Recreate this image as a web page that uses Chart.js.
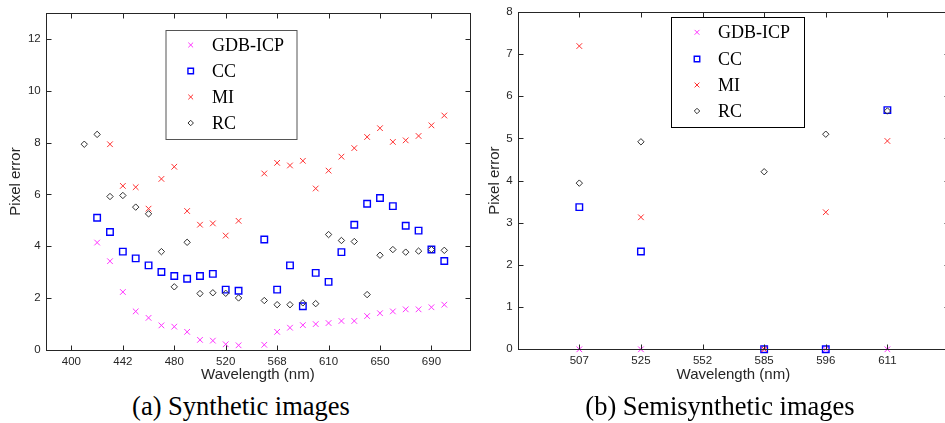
<!DOCTYPE html>
<html>
<head>
<meta charset="utf-8">
<script src="https://cdn.jsdelivr.net/npm/chart.js@4.4.0/dist/chart.umd.min.js"></script>
<style>
body { margin: 0; background: #fff; width: 945px; height: 423px; overflow: hidden; position: relative; }
canvas { position: absolute; top: 0; }
#chartA { left: 0; }
#chartB { left: 472px; }
.caption { position: absolute; top: 391px; font-family: "Liberation Serif", serif; font-size: 26.5px; color: #000; white-space: nowrap; transform: translateX(-50%); }
</style>
</head>
<body>
<canvas id="chartA" width="476" height="385"></canvas>
<canvas id="chartB" width="483" height="385"></canvas>
<div class="caption" style="left:241px">(a) Synthetic images</div>
<div class="caption" style="left:720px">(b) Semisynthetic images</div>
<script>
// (a) synthetic images : one value per wavelength index, null = no measure
const xTickPosA = [0, 4, 8, 12, 16, 20, 24, 28];
const xTickLabelsA = ['400', '442', '480', '520', '568', '610', '650', '690'];
const yTicksA = [0, 2, 4, 6, 8, 10, 12];

const gdbA = [null, null, 4.14, 3.42, 2.23, 1.48, 1.23, 0.94, 0.89, 0.69, 0.38, 0.35, 0.21, 0.17, null,
              0.19, 0.69, 0.85, 0.95, 0.99, 1.03, 1.11, 1.11, 1.30, 1.41, 1.48, 1.56, 1.56, 1.64, 1.74];
const ccA = [null, null, 5.10, 4.55, 3.79, 3.53, 3.26, 3.00, 2.85, 2.74, 2.85, 2.93, 2.32, 2.28, null,
             4.26, 2.32, 3.26, 1.68, 2.97, 2.62, 3.77, 4.83, 5.64, 5.86, 5.55, 4.79, 4.60, 3.87, 3.43];
const miA = [null, null, null, 7.94, 6.33, 6.28, 5.45, 6.60, 7.07, 5.36, 4.83, 4.88, 4.41, 4.98, null,
             6.81, 7.22, 7.12, 7.30, 6.23, 6.92, 7.46, 7.79, 8.22, 8.56, 8.03, 8.09, 8.26, 8.67, 9.05];
const rcA = [null, 7.94, 8.32, 5.92, 5.96, 5.51, 5.25, 3.79, 2.43, 4.15, 2.17, 2.20, 2.18, 2.00, null,
             1.90, 1.74, 1.74, 1.81, 1.78, 4.45, 4.22, 4.18, 2.13, 3.65, 3.87, 3.77, 3.81, 3.87, 3.84];

// (b) semisynthetic images
const xTickPosB = [0, 1, 2, 3, 4, 5];
const xTickLabelsB = ['507', '525', '552', '585', '596', '611'];
const yTicksB = [0, 1, 2, 3, 4, 5, 6, 7, 8];

const gdbB = [0, 0, null, 0, 0, 0];
const ccB = [3.37, 2.32, null, 0, 0, 5.67];
const miB = [7.19, 3.13, null, 0, 3.25, 4.94];
const rcB = [3.94, 4.92, null, 4.21, 5.10, 5.65];

const seriesNames = ['GDB-ICP', 'CC', 'MI', 'RC'];

const styles = [
    { pointStyle: 'crossRot', radius: 4, borderColor: '#ff33ff', borderWidth: 1 },
    { pointStyle: 'rect', radius: 4.6, borderColor: '#0000ff', borderWidth: 1.4 },
    { pointStyle: 'crossRot', radius: 4, borderColor: '#ff3030', borderWidth: 1 },
    { pointStyle: 'rectRot', radius: 3.2, borderColor: '#303030', borderWidth: 1 }
];

const axisColor = '#262626';

function toPoints(values) {
    const pts = [];
    values.forEach((v, i) => {
        if (v !== null) pts.push({ x: i, y: v });
    });
    return pts;
}

function makeDatasets(list) {
    return list.map((values, k) => ({
        label: seriesNames[k],
        data: toPoints(values),
        showLine: false,
        pointStyle: styles[k].pointStyle,
        pointRadius: styles[k].radius,
        pointHoverRadius: styles[k].radius,
        pointBorderColor: styles[k].borderColor,
        pointBackgroundColor: 'rgba(0,0,0,0)',
        pointBorderWidth: styles[k].borderWidth,
        clip: false,
        order: 3 - k
    }));
}

// box around the plot with inward ticks, like matlab
const frameTicks = {
    id: 'frameTicks',
    afterDatasetsDraw(chart) {
        const ctx = chart.ctx;
        const a = chart.chartArea;
        const xs = chart.scales.x;
        const ys = chart.scales.y;
        const len = 5;
        ctx.save();
        ctx.strokeStyle = axisColor;
        ctx.lineWidth = 1;
        const l = Math.round(a.left) + 0.5, r = Math.round(a.right) + 0.5;
        const t = Math.round(a.top) + 0.5, b = Math.round(a.bottom) + 0.5;
        ctx.strokeRect(l, t, r - l, b - t);
        ctx.beginPath();
        xs.ticks.forEach(tk => {
            const px = Math.round(xs.getPixelForValue(tk.value)) + 0.5;
            ctx.moveTo(px, b); ctx.lineTo(px, b - len);
            ctx.moveTo(px, t); ctx.lineTo(px, t + len);
        });
        ys.ticks.forEach(tk => {
            const py = Math.round(ys.getPixelForValue(tk.value)) + 0.5;
            ctx.moveTo(l, py); ctx.lineTo(l + len, py);
            ctx.moveTo(r, py); ctx.lineTo(r - len, py);
        });
        ctx.stroke();
        ctx.restore();
    }
};

// legend box drawn at a fixed place inside the plot
const boxLegend = {
    id: 'boxLegend',
    afterDraw(chart, args, opts) {
        const ctx = chart.ctx;
        ctx.save();
        ctx.fillStyle = '#fff';
        ctx.fillRect(opts.x, opts.y, opts.w, opts.h);
        ctx.strokeStyle = opts.border;
        ctx.lineWidth = 1;
        ctx.strokeRect(opts.x + 0.5, opts.y + 0.5, opts.w, opts.h);
        seriesNames.forEach((name, k) => {
            const y = opts.rows[k];
            ctx.strokeStyle = styles[k].borderColor;
            ctx.fillStyle = 'rgba(0,0,0,0)';
            ctx.lineWidth = styles[k].borderWidth;
            Chart.helpers.drawPoint(ctx, {
                pointStyle: styles[k].pointStyle,
                radius: styles[k].radius * 0.85,
                borderWidth: styles[k].borderWidth,
                rotation: 0
            }, opts.markerX, y);
            ctx.fillStyle = '#000';
            ctx.font = '18px "Liberation Serif"';
            ctx.textAlign = 'left';
            ctx.textBaseline = 'middle';
            ctx.fillText(name, opts.textX, y + 1);
        });
        ctx.restore();
    }
};

function makeOptions(cfg) {
    return {
        responsive: false,
        animation: false,
        events: [],
        layout: { padding: cfg.padding },
        plugins: {
            legend: { display: false },
            tooltip: { enabled: false },
            boxLegend: cfg.legend
        },
        scales: {
            x: {
                type: 'linear',
                min: cfg.xMin,
                max: cfg.xMax,
                afterBuildTicks: s => { s.ticks = cfg.xTickPos.map(v => ({ value: v })); },
                afterFit: s => { s.height = cfg.xHeight; },
                grid: { display: false, drawTicks: false },
                border: { display: false },
                ticks: {
                    padding: 5,
                    color: axisColor,
                    font: { family: '"Liberation Sans"', size: 11.5 },
                    maxRotation: 0,
                    autoSkip: false,
                    callback: v => cfg.xTickLabels[cfg.xTickPos.indexOf(v)]
                },
                title: {
                    display: true,
                    text: 'Wavelength (nm)',
                    color: axisColor,
                    font: { family: '"Liberation Sans"', size: 15 },
                    padding: { top: 0, bottom: 1 }
                }
            },
            y: {
                type: 'linear',
                min: 0,
                max: cfg.yMax,
                afterBuildTicks: s => { s.ticks = cfg.yTicks.map(v => ({ value: v })); },
                afterFit: s => { s.width = 45.7; },
                grid: { display: false, drawTicks: false },
                border: { display: false },
                ticks: {
                    padding: 5,
                    color: axisColor,
                    font: { family: '"Liberation Sans"', size: 11.5 }
                },
                title: {
                    display: true,
                    text: 'Pixel error',
                    color: axisColor,
                    font: { family: '"Liberation Sans"', size: 15 },
                    padding: { top: cfg.yTitlePad, bottom: 0 }
                }
            }
        }
    };
}

new Chart(document.getElementById('chartA'), {
    type: 'scatter',
    data: { datasets: makeDatasets([gdbA, ccA, miA, rcA]) },
    options: makeOptions({
        padding: { left: 0, top: 13.3, right: 4.7, bottom: 0 },
        xMin: -2, xMax: 31, xHeight: 35.3,
        xTickPos: xTickPosA, xTickLabels: xTickLabelsA,
        yMax: 13, yTicks: yTicksA, yTitlePad: 6.5,
        legend: { x: 165.5, y: 30, w: 131, h: 109, border: '#555', markerX: 190.7, textX: 212, rows: [45, 71, 97, 123] }
    }),
    plugins: [frameTicks, boxLegend]
});

new Chart(document.getElementById('chartB'), {
    type: 'scatter',
    data: { datasets: makeDatasets([gdbB, ccB, miB, rcB]) },
    options: makeOptions({
        padding: { left: 0, top: 10.3, right: 5.5, bottom: 0 },
        xMin: -1, xMax: 6, xHeight: 35.7,
        xTickPos: xTickPosB, xTickLabels: xTickLabelsB,
        yMax: 8, yTicks: yTicksB, yTitlePad: 14,
        legend: { x: 199, y: 17, w: 133, h: 110, border: '#000', markerX: 225, textX: 246, rows: [32.3, 59, 85, 111] }
    }),
    plugins: [frameTicks, boxLegend]
});
</script>
</body>
</html>
